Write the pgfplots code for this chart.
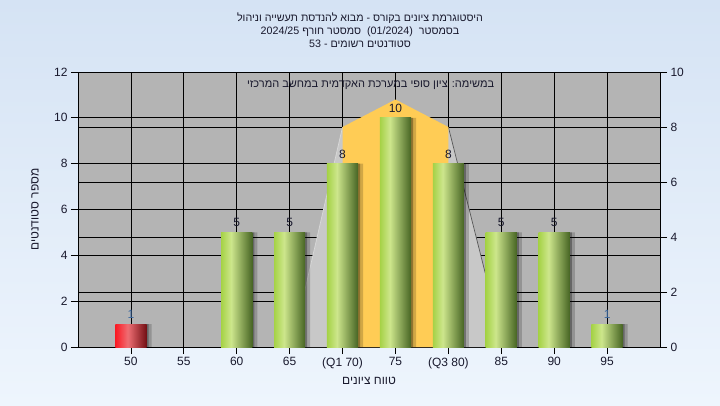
\documentclass[border=0pt]{standalone}
\usepackage{fontspec}
\setmainfont{Liberation Sans}
\newfontfamily\heb[Script=Hebrew]{Liberation Sans}
\TeXXeTstate=1
\usepackage{pgfplots}
\pgfplotsset{compat=1.18}
\definecolor{bgtop}{RGB}{213,227,244}
\definecolor{bgbot}{RGB}{238,245,253}
\definecolor{plotgray}{RGB}{180,180,180}
\definecolor{lightpoly}{RGB}{200,200,200}
\definecolor{orangepoly}{RGB}{255,204,85}
\definecolor{txt}{RGB}{25,25,45}
\definecolor{lbl}{RGB}{60,105,160}
\definecolor{g1}{RGB}{165,210,70}
\definecolor{g2}{RGB}{205,230,140}
\definecolor{g3}{RGB}{70,100,35}
\definecolor{r1}{RGB}{250,25,35}
\definecolor{r2}{RGB}{238,110,115}
\definecolor{r3}{RGB}{115,15,20}
\pgfdeclarehorizontalshading{greenbar}{100bp}{color(0bp)=(g1); color(25bp)=(g1); color(41bp)=(g2); color(75bp)=(g3); color(100bp)=(g3)}
\pgfdeclarehorizontalshading{redbar}{100bp}{color(0bp)=(r1); color(25bp)=(r1); color(45bp)=(r2); color(75bp)=(r3); color(100bp)=(r3)}
\pgfplotsset{
  gbar/.style={ybar, bar shift=0pt, draw=none, shading=greenbar,
    nodes near coords, every node near coord/.append style={font=\fontsize{12}{14}\selectfont, color=txt, yshift=2pt}},
  rbar/.style={ybar, bar shift=0pt, draw=none, shading=redbar,
    nodes near coords, every node near coord/.append style={font=\fontsize{12}{14}\selectfont, color=lbl, yshift=2pt}},
}
\begin{document}
\begin{tikzpicture}
\useasboundingbox (0pt,0pt) rectangle (720pt,405pt);
\shade[top color=bgtop, bottom color=bgbot] (0pt,0pt) rectangle (720pt,405pt);
\node[font=\fontsize{10.7}{13}\selectfont, color=txt, align=center] at (360pt,375pt) {%
\heb\beginR היסטוגרמת ציונים בקורס - מבוא להנדסת תעשייה וניהול\endR\\
2024/25 \heb\beginR סמסטר חורף\endR\ \ (01/2024)\ \ \heb\beginR בסמסטר\endR\\
53 - \heb\beginR סטודנטים רשומים\endR};
\begin{axis}[
  at={(78pt,58pt)}, anchor=south west,
  width=582pt, height=275pt, scale only axis,
  xmin=-1, xmax=10, ymin=0, ymax=12,
  xtick={0,...,9},
  xticklabels={50,55,60,65,(Q1 70),75,(Q3 80),85,90,95},
  ytick={0,2,...,12},
  extra y ticks={2.4,4.8,7.2,9.6},
  extra y tick labels={},
  extra y tick style={major tick length=0pt, grid=major},
  xtick pos=bottom, ytick pos=left,
  tick align=outside, major tick length=7pt,
  grid=major,
  major grid style={black, line width=0.8pt},
  axis line style={black, line width=0.8pt},
  tick style={black, line width=0.8pt},
  axis background/.style={fill=plotgray},
  /pgf/number format/assume math mode=true,
  tick label style={font=\fontsize{12}{14}\selectfont, color=txt},
  xlabel={\heb\beginR טווח ציונים\endR},
  ylabel={\heb\beginR מספר סטודנטים\endR},
  x label style={at={(axis description cs:0.5,0)}, anchor=center, yshift=-34pt, font=\fontsize{12}{14}\selectfont, color=txt},
  y label style={at={(axis description cs:-0.074,0.5)}, anchor=center, font=\fontsize{12}{14}\selectfont, color=txt},
  bar width=0.59,
]
% whisker-like light polygon
\addplot[fill=lightpoly, draw=none] coordinates {(3.04,0) (4,9.6) (6,9.6) (7.05,0)} -- cycle;
\addplot[draw=black!65, line width=0.7pt] coordinates {(6,9.6) (7.05,0)};
\addplot[draw=white!85!black, line width=0.7pt] coordinates {(4,9.6) (3.04,0)};
% quartile area
\addplot[fill=orangepoly, draw=none] coordinates {(4,0) (4,9.6) (5,10.8) (6,9.6) (6,0)} -- cycle;
% shadows
\addplot[ybar, bar shift=5pt, fill=black, opacity=0.18, draw=none] coordinates {(0,1) (2,5) (3,5) (4,8) (5,10) (6,8) (7,5) (8,5) (9,1)};
\addplot[ybar, bar shift=2pt, fill=black, opacity=0.3, draw=none] coordinates {(0,1) (2,5) (3,5) (4,8) (5,10) (6,8) (7,5) (8,5) (9,1)};
% bars, one per category so each has its own gradient
\addplot[rbar] coordinates {(0,1)};
\addplot[gbar] coordinates {(2,5)};
\addplot[gbar] coordinates {(3,5)};
\addplot[gbar] coordinates {(4,8)};
\addplot[gbar] coordinates {(5,10)};
\addplot[gbar] coordinates {(6,8)};
\addplot[gbar] coordinates {(7,5)};
\addplot[gbar] coordinates {(8,5)};
\addplot[gbar, every node near coord/.append style={color=lbl}] coordinates {(9,1)};
\node[font=\fontsize{11}{13}\selectfont, color=txt] at (axis cs:4.53,11.42) {\heb\beginR במשימה: ציון סופי במערכת האקדמית במחשב המרכזי\endR};
\end{axis}
\begin{axis}[
  at={(78pt,58pt)}, anchor=south west,
  width=582pt, height=275pt, scale only axis,
  xmin=-1, xmax=10, ymin=0, ymax=10,
  ytick={0,2,...,10},
  axis y line*=right, axis x line=none,
  tick align=outside, major tick length=7pt,
  axis line style={black, line width=0.8pt},
  tick style={black, line width=0.8pt},
  /pgf/number format/assume math mode=true,
  tick label style={font=\fontsize{12}{14}\selectfont, color=txt},
]
\addplot[draw=none] coordinates {(0,0) (9,10)};
\end{axis}
\end{tikzpicture}
\end{document}
